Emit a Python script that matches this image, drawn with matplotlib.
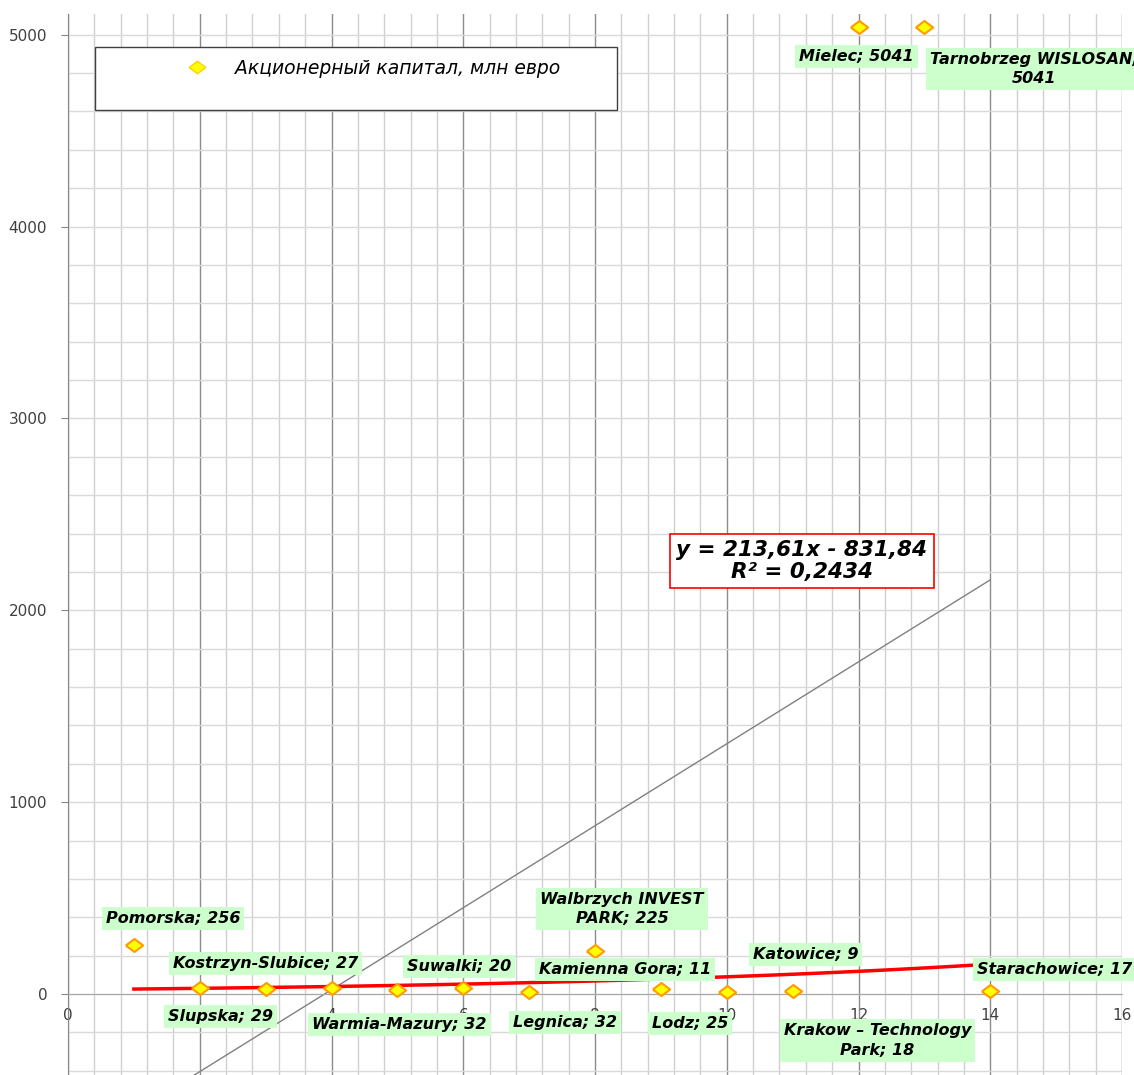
import matplotlib
matplotlib.use("Agg")
import matplotlib.pyplot as plt
import numpy as np
from matplotlib.lines import Line2D
from matplotlib.patches import Rectangle

# data
names = ["Pomorska", "Slupska", "Kostrzyn-Slubice", "Warmia-Mazury", "Suwalki",
         "Legnica", "Kamienna Gora", "Walbrzych INVEST\nPARK", "Lodz", "Katowice",
         "Krakow \u2013 Technology\nPark", "Mielec", "Tarnobrzeg WISLOSAN;\n", "Starachowice"]
idx = np.arange(1, 15)
capital = [256, 29, 27, 32, 20, 32, 11, 225, 25, 9, 18, 5041, 5041, 17]
series_name = "Акционерный капитал, млн евро"

# label offsets in pixels (dx right, dy up)
offsets = [(39, 26), (21, -28), (0, 25), (68, -37), (62, 24), (102, -35), (96, 22),
           (27, 42), (29, -34), (79, 38), (85, -50), (-2, -30), (110, -42), (64, 21)]

W, H = 1134, 1075
fig = plt.figure(figsize=(W / 100, H / 100), dpi=100)
ax = fig.add_axes([68 / W, 0, (1122 - 68) / W, (H - 14) / H])
ax.set_xlim(0, 16)
ax.set_ylim(-422, 5108)

# grid
ax.set_xticks(np.arange(0, 16.1, 2))
ax.set_xticks(np.arange(0, 16.01, 0.4), minor=True)
ax.set_yticks(np.arange(0, 5001, 1000))
ax.set_yticks(np.arange(-400, 5101, 200), minor=True)
ax.grid(which="major", axis="x", color="#8c8c8c", lw=1)
ax.grid(which="minor", axis="x", color="#d0d0d0", lw=1)
ax.grid(which="both", axis="y", color="#d9d9d9", lw=1)
ax.set_axisbelow(True)

for s in ["top", "right"]:
    ax.spines[s].set_visible(False)
ax.spines["left"].set_color("#868686")
ax.spines["bottom"].set_position(("data", 0))
ax.spines["bottom"].set_color("#a6a6a6")
ax.tick_params(axis="x", which="both", length=0, pad=10, labelsize=11, labelcolor="#404040")
ax.tick_params(axis="y", which="major", length=5, color="#868686", pad=10, labelsize=11,
               labelcolor="#404040")
ax.tick_params(axis="y", which="minor", length=0)

# trendlines
k, b = np.polyfit(idx, capital, 1)
xs = np.linspace(1, 14, 100)
ax.plot(xs, k * xs + b, color="#808080", lw=1, zorder=2)
eb, ea = np.polyfit(idx, np.log(capital), 1)
ax.plot(xs, np.exp(ea) * np.exp(eb * xs), color="#ff0000", lw=2.5, zorder=2)

r2 = np.corrcoef(idx, capital)[0, 1] ** 2
eq = "y = %.2fx - %.2f\nR² = %.4f" % (k, -b, r2)
ax.text(11.14, 2258, eq.replace(".", ","), ha="center", va="center", fontsize=15.5,
        fontweight="bold", fontstyle="italic", color="black", zorder=5, linespacing=1.1,
        bbox=dict(boxstyle="square,pad=0.3", fc="white", ec="#ff0000", lw=1.2))

# points
diamond = [(-1, 0), (0, 0.75), (1, 0), (0, -0.75), (-1, 0)]
ax.plot(idx, capital, ls="none", marker=diamond, ms=12.5, mfc="#ffff00", mec="#ff9a00",
        mew=1.5, zorder=4, clip_on=False)

for n, xv, yv, (dx, dy) in zip(names, idx, capital, offsets):
    txt = n + "; " + str(yv) if not n.endswith("\n") else n + str(yv)
    ax.annotate(txt, (xv, yv), xytext=(dx, dy), textcoords="offset pixels",
                ha="center", va="center", fontsize=11.5, fontweight="bold",
                fontstyle="italic", color="black", annotation_clip=False, zorder=6,
                multialignment="center", linespacing=1.35,
                bbox=dict(boxstyle="square,pad=0.25", fc="#ccffcc", ec="none"))

# legend
ax.add_patch(Rectangle((0.0256, 0.9095), 0.4953, 0.0594, transform=ax.transAxes,
                       fc="white", ec="#404040", lw=1, zorder=7))
h = Line2D([], [], ls="none", marker=diamond, ms=12, mfc="#ffff00", mec="#ffd000")
leg = ax.legend([h], [series_name], loc="center", bbox_to_anchor=(0.2856, 0.9491),
                frameon=False, prop={"size": 13.5, "style": "italic"}, handletextpad=1.0)
leg.set_zorder(8)

fig.savefig("out.png", dpi=100)
